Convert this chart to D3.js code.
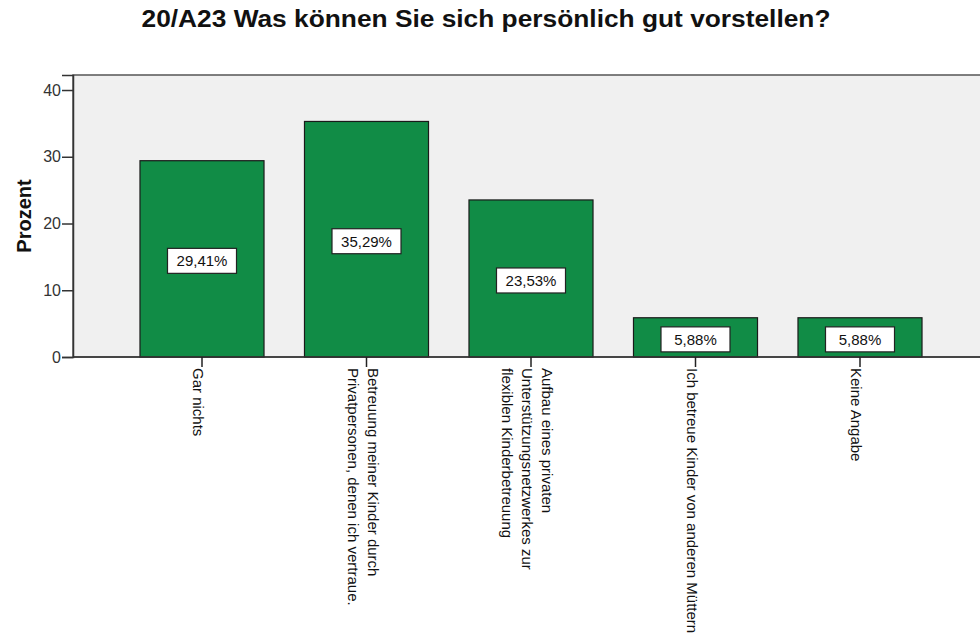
<!DOCTYPE html>
<html>
<head>
<meta charset="utf-8">
<script src="https://cdn.jsdelivr.net/npm/d3@7"></script>
<style>
  body { margin: 0; background: #fff; }
  text { font-family: "Liberation Sans", Arial, sans-serif; }
</style>
</head>
<body>
<svg id="chart" width="980" height="636"></svg>
<script>
// data
const title = "20/A23 Was können Sie sich persönlich gut vorstellen?";
const yLabel = "Prozent";
const categories = [
    "Gar nichts",
    "Betreuung meiner Kinder durch\nPrivatpersonen, denen ich vertraue.",
    "Aufbau eines privaten\nUnterstützungsnetzwerkes zur\nflexiblen Kinderbetreuung",
    "Ich betreue Kinder von anderen Müttern",
    "Keine Angabe"
];
const values = [29.41, 35.29, 23.53, 5.88, 5.88];
const yTicks = [0, 10, 20, 30, 40];

const barColor = "#118c46";
const plotBg = "#f0f0f0";

const svg = d3.select("#chart");

const plotLeft = 73, plotTop = 75, plotBottom = 357;

const xScale = d3.scaleBand()
    .domain(categories)
    .range([119.75, 942.25])
    .paddingInner(0.246)
    .paddingOuter(0.123);

const yScale = d3.scaleLinear()
    .domain([0, 42.25])
    .range([plotBottom, plotTop]);

// title
svg.append("text")
    .attr("x", 486)
    .attr("y", 27)
    .attr("text-anchor", "middle")
    .attr("textLength", 689)
    .attr("lengthAdjust", "spacingAndGlyphs")
    .style("font-size", "23px")
    .style("font-weight", "bold")
    .attr("fill", "#111")
    .text(title);

// plot background
svg.append("rect")
    .attr("x", plotLeft)
    .attr("y", plotTop)
    .attr("width", 1000 - plotLeft)
    .attr("height", plotBottom - plotTop)
    .attr("fill", plotBg)
    .attr("stroke", "#555")
    .attr("stroke-width", 1.5);

// y axis
const yAxis = svg.append("g")
    .attr("transform", `translate(${plotLeft},0)`)
    .call(d3.axisLeft(yScale).tickValues(yTicks).tickSize(11).tickPadding(1).tickFormat(d3.format("d")));
yAxis.select(".domain").attr("stroke", "#333").attr("stroke-width", 1.5);
yAxis.selectAll(".tick line").attr("stroke", "#333").attr("stroke-width", 1.5);
yAxis.selectAll(".tick text")
    .style("font-size", "16px")
    .attr("fill", "#333");

svg.append("text")
    .attr("transform", `translate(31,${(plotTop + plotBottom) / 2 + 0}) rotate(-90)`)
    .attr("text-anchor", "middle")
    .style("font-size", "20px")
    .style("font-weight", "bold")
    .attr("fill", "#111")
    .text(yLabel);

// bars
svg.append("g")
    .selectAll("rect")
    .data(values)
    .join("rect")
    .attr("x", (d, i) => xScale(categories[i]))
    .attr("y", d => yScale(d))
    .attr("width", xScale.bandwidth())
    .attr("height", d => yScale(0) - yScale(d))
    .attr("fill", barColor)
    .attr("stroke", "#1a1a1a")
    .attr("stroke-width", 1.2);

// baseline
svg.append("line")
    .attr("x1", plotLeft).attr("x2", 980)
    .attr("y1", plotBottom).attr("y2", plotBottom)
    .attr("stroke", "#333")
    .attr("stroke-width", 1.5);

// value labels
const labels = svg.append("g")
    .selectAll("g")
    .data(values)
    .join("g")
    .attr("transform", (d, i) => `translate(${xScale(categories[i]) + xScale.bandwidth() / 2},${(yScale(d) + yScale(0)) / 2 + 2})`);

labels.append("rect")
    .attr("x", -34.5)
    .attr("y", -12.5)
    .attr("width", 69)
    .attr("height", 25)
    .attr("fill", "#fff")
    .attr("stroke", "#222")
    .attr("stroke-width", 1.2);

labels.append("text")
    .attr("text-anchor", "middle")
    .attr("y", 5.5)
    .style("font-size", "15px")
    .attr("fill", "#111")
    .text(d => d.toFixed(2).replace(".", ",") + "%");

// x ticks and rotated labels
const xTicks = svg.append("g")
    .selectAll("g")
    .data(categories)
    .join("g")
    .attr("transform", d => `translate(${xScale(d) + xScale.bandwidth() / 2},0)`);

xTicks.append("line")
    .attr("y1", plotBottom)
    .attr("y2", plotBottom + 10)
    .attr("stroke", "#222")
    .attr("stroke-width", 1.5);

xTicks.append("text")
    .attr("transform", `translate(0,${plotBottom + 11}) rotate(90)`)
    .style("font-size", "15px")
    .attr("fill", "#111")
    .each(function(d) {
        const lines = d.split("\n");
        const n = lines.length;
        d3.select(this).selectAll("tspan")
            .data(lines)
            .join("tspan")
            .attr("x", 0)
            .attr("y", (l, i) => 9 + i * 20 - (n - 1) * 10)
            .text(l => l);
    });
</script>
</body>
</html>
